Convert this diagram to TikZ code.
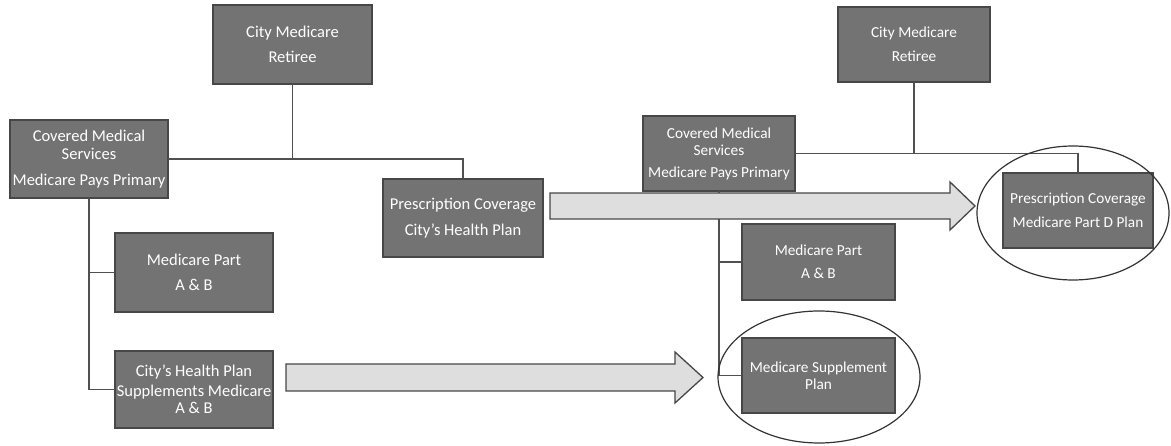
\documentclass[tikz,border=0pt]{standalone}
\usepackage{fontspec}
\setmainfont{Carlito}
\usetikzlibrary{calc}
\definecolor{boxfill}{HTML}{737373}
\definecolor{boxline}{HTML}{474747}
\definecolor{conn}{HTML}{505050}
\definecolor{arrowfill}{HTML}{DEDEDE}
\tikzset{
  gbox/.style={draw=boxline, fill=boxfill, line width=1.4pt, text=white, align=center, inner sep=0pt, outer sep=0pt},
  lefttxt/.style={font=\fontsize{16.5}{18.5}\selectfont},
  righttxt/.style={font=\fontsize{15.3}{17}\selectfont},
  connL/.style={draw=conn, line width=1.9pt},
  connR/.style={draw=conn, line width=1.5pt},
  blockarrow/.style={draw=boxline, fill=arrowfill, line width=1.3pt, line join=miter},
  ring/.style={draw=black!80, line width=1.2pt}
}
\begin{document}
\begin{tikzpicture}[x=1pt, y=-1pt]
\useasboundingbox (0,0) rectangle (1171,446);

% ---------- left tree ----------
\node[gbox, lefttxt, minimum width=159pt, minimum height=79pt] (ret1) at (292.5,44.5) {City Medicare\\[7pt]Retiree};
\node[gbox, lefttxt, minimum width=158pt, minimum height=78pt] (cov1) at (89,159) {Covered Medical\\Services\\[7pt]Medicare Pays Primary};
\node[gbox, lefttxt, minimum width=160pt, minimum height=78pt] (pre1) at (463,218) {Prescription Coverage\\[8pt]City's Health Plan};
\node[gbox, lefttxt, minimum width=158pt, minimum height=79pt] (mpa1) at (194,272.5) {Medicare Part\\[6pt]A \& B};
\node[gbox, lefttxt, minimum width=158pt, minimum height=77pt] (chp1) at (194,389.5) {City's Health Plan\\[1pt]Supplements Medicare\\[-1pt]A \& B};

\draw[connL] (ret1.south) -- (ret1.south |- cov1.east);
\draw[connL] (cov1.east) -- (pre1.north |- cov1.east) -- (pre1.north);
\draw[connL] (cov1.south) -- (cov1.south |- chp1.west) -- (chp1.west);
\draw[connL] (cov1.south |- mpa1.west) -- (mpa1.west);

% ---------- right tree ----------
\node[gbox, righttxt, minimum width=152pt, minimum height=75pt] (ret2) at (914,44.5) {City Medicare\\[7pt]Retiree};
\node[gbox, righttxt, minimum width=152pt, minimum height=75pt] (cov2) at (719,153.5) {Covered Medical\\Services\\[5pt]Medicare Pays Primary};
\node[gbox, righttxt, minimum width=150pt, minimum height=75pt] (pre2) at (1078,210.5) {Prescription Coverage\\[7pt]Medicare Part D Plan};
\node[gbox, righttxt, minimum width=153pt, minimum height=76pt] (mpa2) at (818.5,262) {Medicare Part\\[6pt]A \& B};
\node[gbox, righttxt, minimum width=153pt, minimum height=75pt] (sup2) at (818.5,375.5) {Medicare Supplement\\Plan};

\draw[connR] (ret2.south) -- (ret2.south |- cov2.east);
\draw[connR] (cov2.east) -- (pre2.north |- cov2.east) -- (pre2.north);
\draw[connR] (cov2.south) -- (cov2.south |- sup2.west) -- (sup2.west);
\draw[connR] (cov2.south |- mpa2.west) -- (mpa2.west);

% ---------- highlight ellipses ----------
\draw[ring] (1073,213) ellipse [x radius=96, y radius=67];
\draw[ring] (819,377) ellipse [x radius=101, y radius=66];

% ---------- block arrows ----------
\draw[blockarrow] (550,193) -- (950,193) -- (950,182) -- (975,206) -- (950,230) -- (950,219) -- (550,219) -- cycle;
\draw[blockarrow] (286,364) -- (675,364) -- (675,352) -- (703,377.5) -- (675,403) -- (675,391) -- (286,391) -- cycle;
\end{tikzpicture}
\end{document}
